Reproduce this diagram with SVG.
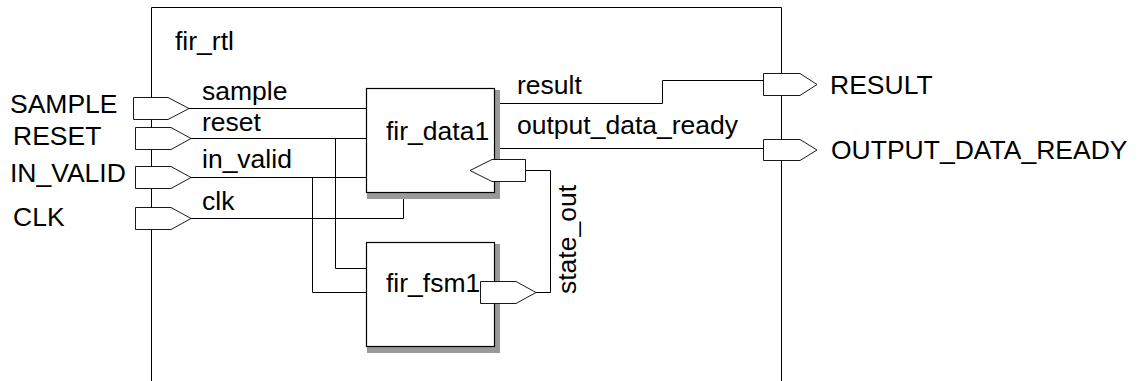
<svg xmlns="http://www.w3.org/2000/svg" width="1138" height="381" viewBox="0 0 1138 381">
<style>
text{font-family:"Liberation Sans",Arial,sans-serif;font-size:26.5px;fill:#000}
.w{fill:none;stroke:#000;stroke-width:1}
.box{fill:#fff;stroke:#000;stroke-width:1.2}
.sh{fill:#999}
.port{fill:#fff;stroke:#000;stroke-width:0.9}
</style>
<rect width="1138" height="381" fill="#fff"/>
<g id="fir_rtl">
<path class="w" d="M151.5,381 V7.5 H781.5 V381"/>
<text x="175" y="50">fir_rtl</text>
</g>
<g id="connectors">
<path class="w" d="M189,108.5 H367"/>
<path class="w" d="M191,138.5 H367"/>
<path class="w" d="M191,177.5 H367"/>
<path class="w" d="M191,218.5 H403.5 V193"/>
<path class="w" d="M335.5,138.5 V268.5 H367"/>
<path class="w" d="M312.5,177.5 V292.5 H367"/>
<path class="w" d="M494,103.5 H662.5 V80.5 H764"/>
<path class="w" d="M494,148.5 H764"/>
<path class="w" d="M525.5,170.5 H550.5 V292.5 H536"/>
<text x="202" y="100">sample</text>
<text x="202" y="131">reset</text>
<text x="202" y="168">in_valid</text>
<text x="202" y="210">clk</text>
<text x="517" y="94">result</text>
<text x="517" y="134">output_data_ready</text>
<text transform="translate(576,294) rotate(-90)">state_out</text>
</g>
<g id="fir_data1">
<rect class="sh" x="367" y="90" width="133" height="109"/>
<rect class="box" x="366.5" y="88.5" width="128" height="104"/>
<text x="386" y="140">fir_data1</text>
<path class="port" d="M470,170.5 L492,159.5 H525.5 V181.5 H492 Z"/>
</g>
<g id="fir_fsm1">
<rect class="sh" x="367" y="244" width="133" height="109"/>
<rect class="box" x="366.5" y="242.5" width="128" height="104"/>
<text x="386" y="292">fir_fsm1</text>
<path class="port" d="M480.5,281.5 H516 L536,292.5 L516,303.5 H480.5 Z"/>
</g>
<g id="port_SAMPLE">
<path class="port" d="M133.5,97.5 H168 L189,108.5 L168,119.5 H133.5 Z"/>
<text x="10" y="113">SAMPLE</text>
</g>
<g id="port_RESET">
<path class="port" d="M135.5,127.5 H171 L191,138.5 L171,149.5 H135.5 Z"/>
<text x="13" y="145">RESET</text>
</g>
<g id="port_IN_VALID">
<path class="port" d="M135.5,166.5 H171 L191,177.5 L171,188.5 H135.5 Z"/>
<text x="10" y="182">IN_VALID</text>
</g>
<g id="port_CLK">
<path class="port" d="M135.5,207.5 H171 L191,218.5 L171,229.5 H135.5 Z"/>
<text x="13" y="226">CLK</text>
</g>
<g id="port_RESULT">
<path class="port" d="M763.5,73.5 H800 L817,84.5 L800,95.5 H763.5 Z"/>
<text x="830" y="94">RESULT</text>
</g>
<g id="port_OUTPUT_DATA_READY">
<path class="port" d="M763.5,139.5 H800 L817,150 L800,160.5 H763.5 Z"/>
<text x="831" y="159">OUTPUT_DATA_READY</text>
</g>
</svg>
